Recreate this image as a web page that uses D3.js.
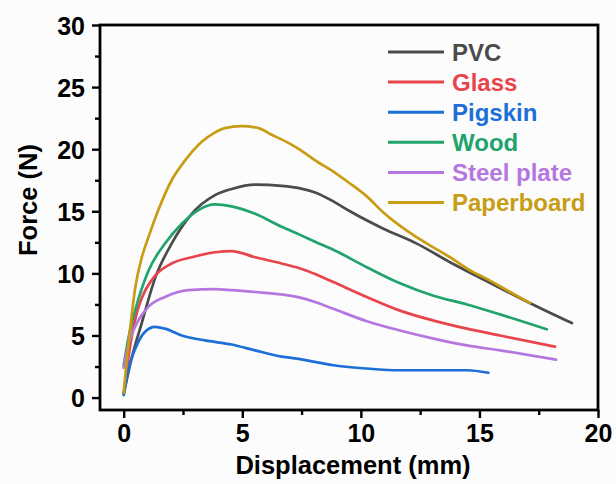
<!DOCTYPE html>
<html>
<head>
<meta charset="utf-8">
<script src="https://cdn.jsdelivr.net/npm/d3@7"></script>
<style>
  html, body { margin: 0; padding: 0; background: #fcfcfc; }
  svg { display: block; }
  text { font-family: "Liberation Sans", Arial, sans-serif; font-weight: bold; }
</style>
</head>
<body>
<svg id="chart" width="616" height="484"></svg>
<script>
// Force–displacement curves, one [displacement mm, force N] list per material
const seriesNames = ["PVC", "Glass", "Pigskin", "Wood", "Steel plate", "Paperboard"];
const seriesColors = ["#4b4b4b", "#e8444c", "#1d6fd8", "#21a36c", "#b577df", "#c89c14"];

const pvc = [[0,0.3],[0.35,3.3],[0.76,6.0],[1.32,9.6],[2.02,12.4],[2.87,14.8],[3.85,16.3],[4.55,16.8],[5.54,17.15],[6.66,17.05],[7.44,16.85],[8.1,16.5],[8.84,15.8],[9.54,15.0],[10.95,13.6],[12.36,12.4],[13.76,10.9],[15.17,9.5],[16.2,8.5],[17.14,7.6],[18.9,6.0]];
const glass = [[0,0.4],[0.3,4.5],[0.55,6.8],[0.76,8.0],[1.32,9.8],[2.02,10.8],[2.87,11.3],[3.85,11.7],[4.55,11.8],[5.54,11.3],[6.66,10.8],[7.44,10.4],[8.07,9.95],[8.84,9.3],[10.25,8.1],[11.65,7.0],[13.06,6.2],[14.47,5.55],[15.87,5.0],[18.19,4.1]];
const pigskin = [[0,0.2],[0.2,2.3],[0.48,3.9],[0.9,5.3],[1.32,5.7],[1.74,5.55],[2.45,5.0],[3.43,4.6],[4.55,4.27],[5.54,3.8],[6.66,3.3],[7.44,3.1],[8.07,2.87],[8.84,2.6],[10.25,2.34],[11.65,2.2],[13.06,2.2],[14.47,2.2],[15.38,2.0]];
const wood = [[0,2.6],[0.2,4.8],[0.48,7.0],[1.04,10.2],[1.74,12.4],[2.45,14.0],[3.15,15.1],[3.85,15.55],[4.55,15.4],[5.54,14.8],[6.66,13.75],[7.44,13.1],[8.07,12.55],[8.84,11.9],[10.25,10.5],[11.65,9.2],[13.06,8.2],[14.47,7.5],[15.87,6.7],[17.84,5.5]];
const steelPlate = [[0,2.4],[0.2,4.3],[0.48,5.7],[1.04,7.3],[1.74,8.1],[2.72,8.65],[3.85,8.73],[4.55,8.65],[5.54,8.5],[6.66,8.3],[7.44,8.05],[8.07,7.7],[8.84,7.15],[10.25,6.15],[11.65,5.4],[13.06,4.75],[14.47,4.2],[15.87,3.8],[18.23,3.05]];
const paperboard = [[0,0.4],[0.25,5.2],[0.5,9.0],[0.75,11.2],[1.04,12.9],[1.46,15.1],[2.02,17.5],[2.59,19.1],[3.29,20.6],[3.8,21.3],[4.27,21.7],[4.98,21.85],[5.68,21.7],[6.2,21.2],[7.0,20.45],[7.44,19.95],[8.07,19.1],[8.84,18.2],[9.5,17.3],[10.25,16.2],[10.95,14.9],[11.6,13.9],[12.36,12.9],[13.06,12.1],[13.76,11.3],[14.74,10.1],[15.17,9.7],[16.2,8.6],[17.14,7.6]];
const seriesData = [pvc, glass, pigskin, wood, steelPlate, paperboard];

const xTicks = [0, 5, 10, 15, 20];
const xMinorTicks = [2.5, 7.5, 12.5, 17.5];
const yTicks = [0, 5, 10, 15, 20, 25, 30];
const yMinorTicks = [2.5, 7.5, 12.5, 17.5, 22.5, 27.5];
const xTitle = "Displacement (mm)";
const yTitle = "Force (N)";

const svg = d3.select("#chart");
const plotBox = { left: 100, right: 598, top: 25, bottom: 410 };

const x = d3.scaleLinear().domain([-1, 20]).range([plotBox.left, plotBox.right]);
const y = d3.scaleLinear().domain([-1, 30]).range([plotBox.bottom, plotBox.top]);

// curves
const line = d3.line().x(d => x(d[0])).y(d => y(d[1])).curve(d3.curveMonotoneX);
const plot = svg.append("g");
seriesData.forEach((s, i) => {
  plot.append("path")
    .attr("d", line(s))
    .attr("fill", "none")
    .attr("stroke", seriesColors[i])
    .attr("stroke-width", 2.7)
    .attr("stroke-linejoin", "round")
    .attr("stroke-linecap", "round");
});

// frame
svg.append("rect")
  .attr("x", plotBox.left).attr("y", plotBox.top)
  .attr("width", plotBox.right - plotBox.left).attr("height", plotBox.bottom - plotBox.top)
  .attr("fill", "none").attr("stroke", "#000").attr("stroke-width", 2.8);

function styleAxis(g) {
  g.select(".domain").remove();
  g.selectAll(".tick line").attr("stroke", "#000").attr("stroke-width", 2.4);
}

// x axis
const gx = svg.append("g").attr("transform", `translate(0,${plotBox.bottom})`)
  .call(d3.axisBottom(x).tickValues(xTicks).tickSize(8).tickFormat(d3.format("d")));
styleAxis(gx);
gx.selectAll(".tick text").attr("y", 32).attr("dy", 0)
  .attr("fill", "#000").style("font-size", "25px");
const gxm = svg.append("g").attr("transform", `translate(0,${plotBox.bottom})`)
  .call(d3.axisBottom(x).tickValues(xMinorTicks).tickSize(5).tickFormat(""));
styleAxis(gxm);

// y axis
const gy = svg.append("g").attr("transform", `translate(${plotBox.left},0)`)
  .call(d3.axisLeft(y).tickValues(yTicks).tickSize(8).tickFormat(d3.format("d")));
styleAxis(gy);
gy.selectAll(".tick text").attr("x", -15).attr("dy", "0.36em")
  .attr("fill", "#000").style("font-size", "25px");
const gym = svg.append("g").attr("transform", `translate(${plotBox.left},0)`)
  .call(d3.axisLeft(y).tickValues(yMinorTicks).tickSize(5).tickFormat(""));
styleAxis(gym);

// axis titles
svg.append("text")
  .attr("x", 353).attr("y", 474)
  .attr("text-anchor", "middle")
  .style("font-size", "25.5px")
  .text(xTitle);
svg.append("text")
  .attr("transform", "translate(37,200) rotate(-90)")
  .attr("text-anchor", "middle")
  .style("font-size", "25.5px")
  .text(yTitle);

// legend
const legend = svg.append("g");
seriesNames.forEach((name, i) => {
  const cy = 52 + i * 30.1;
  legend.append("line")
    .attr("x1", 388).attr("x2", 444)
    .attr("y1", cy).attr("y2", cy)
    .attr("stroke", seriesColors[i]).attr("stroke-width", 3);
  legend.append("text")
    .attr("x", 452).attr("y", cy + 8.5)
    .attr("fill", seriesColors[i])
    .style("font-size", "24px")
    .text(name);
});
</script>
</body>
</html>
